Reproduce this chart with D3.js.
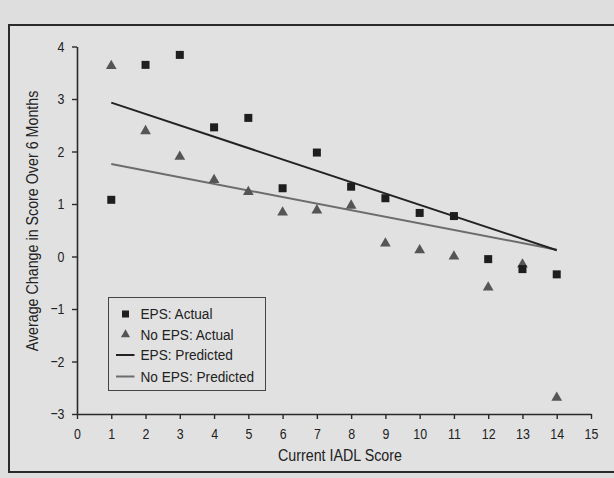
<!DOCTYPE html>
<html>
<head>
<meta charset="utf-8">
<script src="https://cdn.jsdelivr.net/npm/d3@7"></script>
<style>
  body { margin: 0; background: #dedede; }
  svg { display: block; }
  text { font-family: "Liberation Sans", Arial, sans-serif; fill: #222; }
</style>
</head>
<body>
<svg id="chart"></svg>
<script>
// data
const iadl = [1, 2, 3, 4, 5, 6, 7, 8, 9, 10, 11, 12, 13, 14];
const epsActual = [1.08, 3.65, 3.84, 2.46, 2.64, 1.30, 1.98, 1.33, 1.11, 0.83, 0.77, -0.05, -0.24, -0.34];
const noEpsActual = [3.63, 2.39, 1.90, 1.46, 1.23, 0.84, 0.88, 0.97, 0.25, 0.12, 0.00, -0.59, -0.15, -2.69];
const epsPredicted = [[1, 2.93], [14, 0.12]];
const noEpsPredicted = [[1, 1.76], [14, 0.13]];
const xTicks = d3.range(0, 16);
const yTicks = [-3, -2, -1, 0, 1, 2, 3, 4];
const legendLabels = ['EPS: Actual', 'No EPS: Actual', 'EPS: Predicted', 'No EPS: Predicted'];

const width = 614;
const height = 478;
const margin = { top: 46.5, left: 77 };
const innerWidth = 514;
const innerHeight = 367.5;
const narrow = 0.84; // the print face is a condensed sans

const svg = d3.select('#chart')
  .attr('width', width)
  .attr('height', height);

// frame (the right edge is cut off in the scan)
svg.append('rect')
  .attr('x', 9)
  .attr('y', 25)
  .attr('width', width - 9)
  .attr('height', 447)
  .attr('fill', '#e1e1e1');
svg.append('path')
  .attr('d', `M${width},25H9V472H${width}`)
  .attr('fill', 'none')
  .attr('stroke', '#2a2a2a')
  .attr('stroke-width', 2);

const g = svg.append('g')
  .attr('transform', `translate(${margin.left}, ${margin.top})`);

const xScale = d3.scaleLinear().domain([0, 15]).range([0, innerWidth]);
const yScale = d3.scaleLinear().domain([-3, 4]).range([innerHeight, 0]);

const xAxis = d3.axisBottom(xScale).tickValues(xTicks).tickSize(5).tickSizeOuter(0);
const yAxis = d3.axisLeft(yScale).tickValues(yTicks).tickSize(5).tickSizeOuter(0)
  .tickFormat(d => d < 0 ? '\u2212' + Math.abs(d) : d);

const gx = g.append('g')
  .attr('transform', `translate(0, ${innerHeight})`)
  .call(xAxis);
const gy = g.append('g').call(yAxis);

[gx, gy].forEach(ax => {
  ax.select('.domain').attr('stroke', '#2a2a2a').attr('stroke-width', 1.6);
  ax.selectAll('.tick line').attr('stroke', '#2a2a2a').attr('stroke-width', 1.4);
  ax.selectAll('.tick text')
    .attr('fill', '#222')
    .style('font-family', '"Liberation Sans", Arial, sans-serif')
    .style('font-size', '15.5px')
    .attr('transform', 'scale(0.8, 1)');
});
gx.selectAll('.tick text').attr('y', 14);
gy.selectAll('.tick text').attr('x', -12.5 / 0.8);

// axis titles
svg.append('text')
  .attr('transform', `translate(340, 461) scale(${narrow}, 1)`)
  .attr('text-anchor', 'middle')
  .attr('font-size', 17)
  .text('Current IADL Score');

svg.append('text')
  .attr('transform', `translate(38, 221) rotate(-90) scale(${narrow}, 1)`)
  .attr('text-anchor', 'middle')
  .attr('font-size', 17)
  .text('Average Change in Score Over 6 Months');

// predicted lines
const line = d3.line().x(d => xScale(d[0])).y(d => yScale(d[1]));

g.append('path')
  .datum(noEpsPredicted)
  .attr('d', line)
  .attr('fill', 'none')
  .attr('stroke', '#6c6c6c')
  .attr('stroke-width', 2);

g.append('path')
  .datum(epsPredicted)
  .attr('d', line)
  .attr('fill', 'none')
  .attr('stroke', '#222')
  .attr('stroke-width', 2);

// actual points
const triangle = d3.symbol().type(d3.symbolTriangle).size(50);

g.selectAll('.tri')
  .data(iadl)
  .enter()
  .append('path')
  .attr('class', 'tri')
  .attr('d', triangle)
  .attr('transform', (d, i) => `translate(${xScale(d)}, ${yScale(noEpsActual[i])})`)
  .attr('fill', '#555');

g.selectAll('.sq')
  .data(iadl)
  .enter()
  .append('rect')
  .attr('class', 'sq')
  .attr('x', d => xScale(d) - 4)
  .attr('y', (d, i) => yScale(epsActual[i]) - 4)
  .attr('width', 8)
  .attr('height', 8)
  .attr('fill', '#1e1e1e');

// legend
const legend = svg.append('g').attr('transform', 'translate(108.5, 297.5)');
legend.append('rect')
  .attr('width', 157)
  .attr('height', 93)
  .attr('fill', 'none')
  .attr('stroke', '#444')
  .attr('stroke-width', 1);

const rowY = [16.5, 37, 57.5, 79];
legend.append('rect').attr('x', 13.5).attr('y', rowY[0] - 3.5).attr('width', 7).attr('height', 7).attr('fill', '#1e1e1e');
legend.append('path').attr('d', d3.symbol().type(d3.symbolTriangle).size(36))
  .attr('transform', `translate(17, ${rowY[1]})`).attr('fill', '#555');
legend.append('line').attr('x1', 7.5).attr('x2', 26).attr('y1', rowY[2]).attr('y2', rowY[2])
  .attr('stroke', '#222').attr('stroke-width', 2);
legend.append('line').attr('x1', 7.5).attr('x2', 26).attr('y1', rowY[3]).attr('y2', rowY[3])
  .attr('stroke', '#6c6c6c').attr('stroke-width', 2);

legend.selectAll('.lab')
  .data(legendLabels)
  .enter()
  .append('text')
  .attr('class', 'lab')
  .attr('transform', (d, i) => `translate(32, ${rowY[i]}) scale(0.88, 1)`)
  .attr('dy', '0.35em')
  .attr('font-size', 15.5)
  .text(d => d);
</script>
</body>
</html>
